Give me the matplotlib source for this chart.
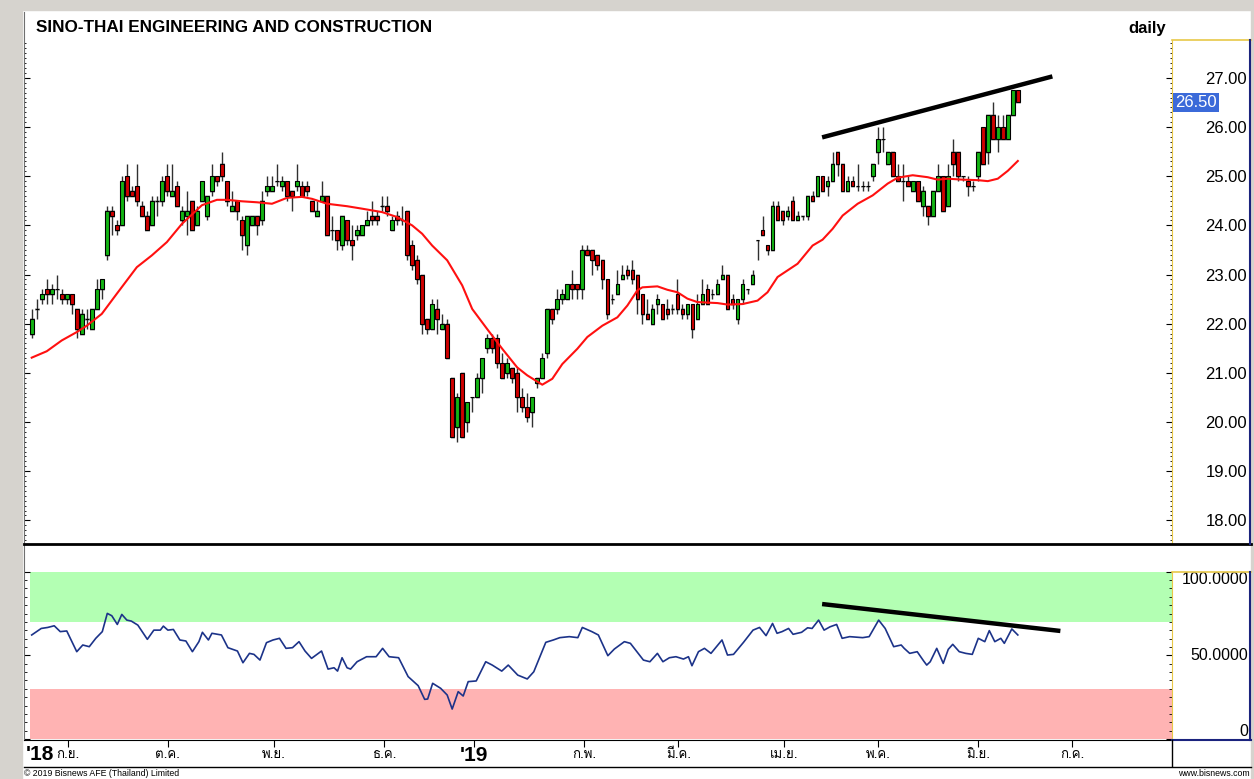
import numpy as np
import matplotlib
matplotlib.use('Agg')
import matplotlib.pyplot as plt
import matplotlib.transforms as mtransforms
from matplotlib import font_manager
from matplotlib.ft2font import FT2Font
from matplotlib.lines import Line2D
from matplotlib.patches import Rectangle
from matplotlib.ticker import MultipleLocator, FixedLocator

# ---------------- data ----------------
opens = [21.8, 22.3, 22.5, 22.7, 22.6, 22.7, 22.6, 22.5, 22.6, 22.3,
         21.8, 22.1, 21.9, 22.3, 22.7, 23.4, 24.3, 24.0, 24.0, 25.0,
         24.7, 24.8, 24.4, 24.2, 24.0, 24.5, 24.5, 25.0, 24.6, 24.8,
         24.1, 24.2, 24.5, 24.0, 24.5, 24.2, 24.7, 25.0, 25.25, 24.9,
         24.3, 24.5, 24.1, 23.6, 24.0, 24.2, 24.1, 24.7, 24.7, 24.9,
         24.8, 24.9, 24.7, 24.8, 24.8, 24.8, 24.5, 24.2, 24.5, 24.6,
         23.9, 23.9, 23.6, 24.1, 23.7, 23.8, 23.8, 24.0, 24.2, 24.2,
         24.4, 24.4, 23.9, 24.2, 24.1, 24.3, 23.6, 23.3, 23.0, 22.1,
         21.9, 22.3, 21.9, 22.0, 20.9, 19.9, 21.0, 20.0, 20.5, 20.5,
         20.9, 21.5, 21.7, 21.7, 21.2, 21.0, 21.1, 21.0, 20.5, 20.3,
         20.2, 20.8, 20.9, 21.4, 22.3, 22.3, 22.5, 22.5, 22.8, 22.8,
         22.7, 23.5, 23.5, 23.4, 23.3, 22.9, 22.5, 22.6, 22.9, 23.1,
         23.1, 23.0, 22.6, 22.2, 22.0, 22.4, 22.4, 22.3, 22.3, 22.6,
         22.3, 22.2, 22.4, 22.1, 22.4, 22.7, 22.6, 22.6, 22.9, 23.0,
         22.5, 22.1, 22.5, 22.7, 22.8, 23.7, 23.9, 23.6, 23.5, 24.4,
         24.3, 24.2, 24.5, 24.1, 24.2, 24.2, 24.6, 24.6, 25.0, 24.8,
         24.9, 25.5, 25.25, 24.7, 24.9, 24.8, 24.8, 24.8, 25.0, 25.5,
         25.75, 25.25, 25.5, 25.0, 24.9, 24.9, 24.7, 24.9, 24.4, 24.4,
         24.2, 24.7, 25.0, 24.4, 25.5, 25.5, 25.0, 24.9, 24.8, 25.0,
         26.0, 25.5, 26.25, 25.75, 26.0, 25.75, 26.25, 26.75]
highs = [22.3, 22.5, 22.7, 22.9, 22.8, 23.0, 22.7, 22.6, 22.6, 22.3,
         22.3, 22.3, 22.3, 22.9, 22.9, 24.4, 24.4, 24.1, 25.0, 25.25,
         24.8, 25.25, 24.5, 24.3, 24.6, 24.6, 25.0, 25.25, 25.25, 24.9,
         24.4, 24.7, 24.5, 24.4, 24.9, 24.6, 25.25, 25.0, 25.5, 24.9,
         24.7, 24.5, 24.2, 24.2, 24.2, 24.2, 24.7, 25.0, 25.0, 25.25,
         25.0, 24.9, 24.7, 25.25, 24.9, 24.9, 24.5, 24.5, 24.9, 24.6,
         24.2, 23.9, 24.2, 24.1, 24.0, 24.0, 24.0, 24.3, 24.5, 24.3,
         24.6, 24.6, 24.2, 24.3, 24.4, 24.3, 23.7, 23.4, 23.0, 22.1,
         22.5, 22.5, 22.2, 22.1, 20.9, 20.6, 21.0, 20.4, 20.5, 21.0,
         21.3, 21.8, 21.8, 21.8, 21.4, 21.3, 21.1, 21.1, 20.7, 20.6,
         20.5, 20.9, 21.4, 22.3, 22.3, 22.7, 22.7, 22.8, 23.1, 22.8,
         23.6, 23.6, 23.5, 23.4, 23.3, 22.9, 22.6, 23.1, 23.2, 23.2,
         23.3, 23.0, 22.6, 22.5, 22.4, 22.6, 22.4, 22.5, 22.4, 22.9,
         22.4, 22.4, 22.4, 22.6, 22.9, 22.8, 22.7, 22.9, 23.2, 23.0,
         22.6, 22.5, 22.9, 22.7, 23.1, 23.7, 24.2, 23.6, 24.5, 24.5,
         24.3, 24.4, 24.6, 24.3, 24.2, 24.6, 24.7, 25.0, 25.0, 25.0,
         25.5, 25.5, 25.25, 25.0, 25.0, 25.25, 24.9, 24.9, 25.25, 26.0,
         26.0, 25.5, 25.5, 25.25, 25.25, 25.0, 24.9, 24.9, 24.8, 24.4,
         24.7, 25.25, 25.0, 25.25, 25.75, 25.5, 25.0, 25.0, 24.9, 25.5,
         26.0, 26.25, 26.5, 26.25, 26.25, 26.25, 26.75, 26.75]
lows = [21.7, 22.1, 22.4, 22.4, 22.4, 22.5, 22.4, 22.4, 22.2, 21.7,
        21.8, 21.9, 21.9, 22.3, 22.5, 23.3, 23.8, 23.8, 24.0, 24.5,
        24.6, 24.4, 24.2, 23.9, 24.0, 24.2, 24.4, 24.6, 24.6, 24.4,
        24.0, 23.8, 23.9, 24.0, 24.5, 24.1, 24.6, 24.8, 24.9, 24.4,
        24.3, 24.1, 23.5, 23.4, 24.0, 23.8, 24.0, 24.6, 24.7, 24.8,
        24.7, 24.5, 24.3, 24.7, 24.6, 24.6, 24.3, 24.2, 24.5, 23.8,
        23.7, 23.5, 23.5, 23.6, 23.3, 23.7, 23.8, 24.0, 24.0, 24.0,
        24.3, 24.2, 23.9, 24.0, 24.0, 23.3, 23.1, 22.8, 21.8, 21.8,
        21.9, 21.8, 21.9, 21.3, 19.7, 19.6, 19.7, 19.8, 20.2, 20.5,
        20.6, 21.4, 21.4, 21.1, 20.9, 20.9, 20.8, 20.2, 20.2, 20.0,
        19.9, 20.7, 20.9, 21.3, 22.0, 22.2, 22.4, 22.5, 22.5, 22.5,
        22.5, 23.4, 23.0, 23.1, 22.7, 22.1, 22.4, 22.6, 22.9, 22.9,
        22.8, 22.2, 22.0, 22.1, 22.0, 22.2, 22.1, 22.1, 22.2, 22.2,
        22.1, 22.1, 21.7, 22.1, 22.4, 22.4, 22.5, 22.6, 22.9, 22.3,
        22.3, 22.0, 22.4, 22.6, 22.8, 23.3, 23.8, 23.4, 23.5, 24.1,
        24.0, 24.1, 24.1, 24.1, 24.1, 24.1, 24.5, 24.6, 24.7, 24.6,
        24.9, 25.0, 24.7, 24.7, 24.8, 24.7, 24.7, 24.7, 24.9, 25.25,
        25.5, 25.25, 25.0, 24.9, 24.5, 24.8, 24.7, 24.5, 24.2, 24.0,
        24.2, 24.7, 24.3, 24.4, 25.0, 24.9, 24.9, 24.6, 24.7, 24.9,
        25.25, 25.25, 25.75, 25.5, 25.75, 25.75, 26.25, 26.5]
closes = [22.1, 22.3, 22.6, 22.6, 22.7, 22.7, 22.5, 22.6, 22.4, 21.9,
          22.2, 22.1, 22.3, 22.7, 22.9, 24.3, 24.2, 23.9, 24.9, 24.6,
          24.6, 24.5, 24.2, 23.9, 24.5, 24.5, 24.9, 24.7, 24.7, 24.4,
          24.3, 24.3, 23.9, 24.3, 24.9, 24.6, 25.0, 24.9, 25.0, 24.5,
          24.4, 24.3, 23.8, 24.2, 24.2, 24.0, 24.5, 24.8, 24.8, 24.9,
          24.9, 24.6, 24.6, 24.9, 24.6, 24.7, 24.3, 24.3, 24.6, 23.8,
          23.9, 23.7, 24.2, 23.7, 23.6, 23.9, 24.0, 24.1, 24.1, 24.1,
          24.4, 24.3, 24.1, 24.1, 24.1, 23.4, 23.2, 22.9, 22.0, 21.9,
          22.4, 22.1, 22.0, 21.3, 19.7, 20.5, 19.7, 20.4, 20.5, 20.9,
          21.3, 21.7, 21.5, 21.2, 20.9, 21.2, 20.9, 20.5, 20.3, 20.1,
          20.5, 20.9, 21.3, 22.3, 22.1, 22.5, 22.6, 22.8, 22.7, 22.7,
          23.5, 23.4, 23.3, 23.2, 22.9, 22.2, 22.5, 22.8, 23.0, 23.0,
          22.9, 22.5, 22.2, 22.1, 22.3, 22.5, 22.1, 22.2, 22.3, 22.3,
          22.2, 22.4, 21.9, 22.4, 22.6, 22.4, 22.6, 22.8, 23.0, 22.3,
          22.4, 22.5, 22.8, 22.7, 23.0, 23.7, 23.8, 23.5, 24.4, 24.1,
          24.1, 24.3, 24.1, 24.2, 24.2, 24.6, 24.5, 25.0, 24.7, 24.9,
          25.25, 25.25, 24.7, 24.9, 24.8, 24.8, 24.8, 24.8, 25.25, 25.75,
          25.75, 25.5, 25.0, 24.9, 24.9, 24.8, 24.9, 24.5, 24.7, 24.2,
          24.7, 25.0, 24.3, 25.0, 25.25, 25.0, 25.0, 24.8, 24.8, 25.5,
          25.25, 26.25, 25.75, 26.0, 25.75, 26.25, 26.75, 26.5]

# red moving average, read at these bar numbers
ma_idx = [1, 4, 7, 10, 12, 15, 18, 20, 22, 25, 28, 31, 35, 38, 40, 43, 46, 49, 52, 55,
          57, 60, 64, 67, 71, 74, 77, 79, 81, 84, 87, 89, 92, 95, 98, 100, 103, 105, 107, 110,
          112, 115, 118, 120, 122, 123, 126, 128, 130, 132, 134, 138, 140, 143, 146, 148, 150, 154, 157, 159,
          161, 163, 166, 169, 172, 174, 177, 180, 182, 184, 187, 190, 192, 194, 196, 198]
ma_val = [21.31, 21.44, 21.66, 21.83, 21.96, 22.20, 22.61, 22.88, 23.15, 23.39,
          23.66, 24.03, 24.41, 24.52, 24.52, 24.49, 24.47, 24.44, 24.56, 24.58,
          24.54, 24.44, 24.39, 24.34, 24.27, 24.17, 24.00, 23.83, 23.59, 23.29,
          22.78, 22.30, 21.89, 21.49, 21.11, 20.95, 20.76, 20.88, 21.18, 21.49,
          21.73, 21.96, 22.13, 22.37, 22.68, 22.74, 22.76, 22.69, 22.64, 22.51,
          22.44, 22.42, 22.39, 22.40, 22.47, 22.64, 22.95, 23.22, 23.59, 23.71,
          23.93, 24.20, 24.44, 24.61, 24.85, 24.97, 25.02, 24.98, 24.93, 24.95,
          24.93, 24.92, 24.90, 24.95, 25.11, 25.31]

# RSI line, read at these bar positions
rsi_idx = [1, 2.9, 4.2, 5.5, 6.7, 8.0, 10.0, 11.2, 12.5, 13.8,
           15.1, 16.1, 17.0, 18.1, 19.0, 20.0, 20.9, 22.2, 24.1, 25.4,
           26.7, 27.3, 28.2, 29.3, 30.6, 31.8, 33.1, 34.4, 35.1, 36.3,
           37.0, 38.9, 40.2, 42.1, 43.2, 44.5, 45.4, 46.6, 47.9, 49.2,
           50.5, 51.8, 53.1, 54.4, 55.6, 56.9, 58.9, 60.2, 61.4, 62.1,
           63.0, 64.0, 64.7, 66.0, 67.9, 69.8, 71.1, 72.4, 74.3, 76.2,
           78.2, 79.5, 80.1, 81.1, 82.7, 84.0, 85.0, 86.2, 87.2, 88.2,
           89.8, 91.7, 93.0, 94.9, 96.2, 98.1, 100.0, 101.3, 103.7, 105.2,
           106.5, 108.4, 110.1, 111.0, 112.9, 114.2, 116.1, 117.4, 119.4, 120.6,
           123.2, 124.5, 126.0, 127.1, 128.4, 129.7, 131.2, 132.2, 132.9, 134.2,
           135.4, 136.7, 138.9, 140.0, 141.2, 143.2, 145.1, 146.4, 147.7, 149.0,
           149.9, 150.9, 152.2, 153.1, 154.8, 156.0, 156.9, 158.2, 159.3, 160.5,
           161.8, 162.9, 164.4, 167.0, 168.3, 170.2, 171.5, 173.2, 174.7, 175.3,
           176.4, 177.9, 179.2, 179.8, 180.5, 181.8, 183.1, 184.1, 185.0, 186.3,
           187.6, 188.9, 190.1, 191.4, 192.3, 193.4, 194.6, 195.3, 196.8, 198.0]
rsi_val = [62.2, 66.1, 66.7, 67.7, 64.2, 64.6, 52.2, 56.2, 55.2, 60.2,
           64.2, 75.1, 73.7, 68.5, 74.5, 71.1, 70.5, 68.1, 59.6, 65.1,
           65.1, 67.5, 65.1, 65.5, 59.2, 58.6, 52.2, 58.2, 63.8, 59.2,
           63.2, 62.2, 54.6, 52.6, 45.6, 51.2, 50.6, 47.2, 57.6, 59.2,
           60.2, 54.2, 54.6, 58.2, 52.6, 48.2, 52.6, 41.8, 42.6, 40.6,
           48.6, 42.6, 41.8, 46.2, 49.2, 49.2, 54.2, 49.2, 48.6, 37.3,
           31.9, 23.7, 23.9, 33.3, 30.3, 26.3, 17.9, 28.3, 25.7, 34.3,
           34.7, 46.2, 44.2, 40.6, 44.2, 38.2, 35.9, 40.2, 57.8, 59.2,
           60.6, 61.2, 60.6, 66.7, 64.2, 62.2, 49.8, 53.8, 58.2, 57.2,
           47.2, 46.2, 51.2, 46.2, 48.6, 49.2, 47.8, 49.2, 43.8, 52.2,
           54.2, 51.2, 59.2, 50.2, 50.6, 57.8, 65.1, 66.7, 61.8, 69.1,
           63.2, 64.2, 66.1, 62.6, 63.8, 66.5, 66.1, 71.1, 65.1, 67.1,
           68.5, 60.2, 61.2, 60.6, 61.2, 71.1, 66.1, 55.2, 56.2, 54.2,
           51.2, 52.2, 46.6, 44.2, 46.2, 54.2, 45.2, 53.6, 56.6, 52.2,
           51.2, 50.6, 60.2, 58.2, 64.8, 58.2, 60.2, 57.2, 65.8, 62.2]

# hand-drawn trend lines (bar, value)
price_trend_x = [158.9, 204.9]
price_trend_y = [25.79, 27.03]
rsi_trend_x = [158.9, 206.5]
rsi_trend_y = [80.7, 64.6]

month_pos = [8.2, 28.2, 49.4, 71.4, 89.4, 111.4, 130.2, 151.3, 170.1, 190.1, 208.9]
month_labels = ['ก.ย.', 'ต.ค.', 'พ.ย.', 'ธ.ค.', "'19", 'ก.พ.', 'มี.ค.', 'เม.ย.', 'พ.ค.', 'มิ.ย.', 'ก.ค.']
price_ticks = [18, 19, 20, 21, 22, 23, 24, 25, 26, 27]
rsi_ticks = [0, 50, 100]
rsi_tick_labels = ['0', '50.0000', '100.0000']

# ---------------- fonts ----------------
plt.rcParams['font.family'] = ['Liberation Sans', 'DejaVu Sans']
thai_font = None
for fe in font_manager.fontManager.ttflist:
    try:
        if ord('ก') in FT2Font(fe.fname).get_charmap():
            thai_font = fe.name
            break
    except Exception:
        continue
thai_family = [thai_font, 'Liberation Sans'] if thai_font else ['Liberation Sans', 'DejaVu Sans']
narrow = ['Liberation Sans Narrow', 'Liberation Sans']

# ---------------- layout (pixels of the 1254x779 picture) ----------------
W, H = 1254, 779
fig = plt.figure(figsize=(W / 100, H / 100), dpi=100, facecolor='white')


def fx(x):
    return x / W


def fy(y):
    return 1 - y / H


def fline(xs, ys, **kw):
    fig.add_artist(Line2D([fx(v) for v in xs], [fy(v) for v in ys],
                          transform=fig.transFigure, **kw))


# window frame
fig.add_artist(Rectangle((0, 0), fx(22), 1, transform=fig.transFigure,
                         color='#d6d3ce', zorder=0))
fig.add_artist(Rectangle((0, fy(10)), 1, 10 / H, transform=fig.transFigure,
                         color='#d6d3ce', zorder=0))
fig.add_artist(Rectangle((fx(1251), 0), 3 / W, 1, transform=fig.transFigure,
                         color='#d6d3ce', zorder=0))

X0, X1 = -0.54, 228.8
ax_p = fig.add_axes([fx(24), fy(544), fx(1172) - fx(24), (544 - 12) / H])
ax_r = fig.add_axes([fx(24), fy(740), fx(1172) - fx(24), (740 - 545) / H])

# ---------------- price panel ----------------
days = np.arange(1, len(closes) + 1)
o = np.array(opens)
c = np.array(closes)
hi = np.array(highs)
lo = np.array(lows)
body_lo = np.minimum(o, c)
body_h = np.abs(c - o)
colors = np.where(c >= o, '#14b414', '#d00000')

ax_p.bar(days + 0.12, body_h + 0.05, bottom=body_lo - 0.04, width=0.88,
         color='#cccccc', zorder=1)
ax_p.vlines(days, lo, hi, color='#303030', lw=1.0, zorder=2)
ax_p.bar(days, body_h, bottom=body_lo, width=0.74, color=colors,
         edgecolor='black', linewidth=0.8, zorder=3)
ax_p.plot(ma_idx, ma_val, color='#ff1010', lw=1.5, zorder=4)
ax_p.plot(price_trend_x, price_trend_y, color='black', lw=3.2,
          solid_capstyle='butt', zorder=5)

ax_p.set_xlim(X0, X1)
ax_p.set_ylim(17.52, 28.34)
ax_p.set_yticks(price_ticks)
ax_p.set_yticklabels([f'{v:.2f}' for v in price_ticks])
ax_p.yaxis.set_minor_locator(FixedLocator(np.arange(17.6, 27.75, 0.1)))
ax_p.yaxis.tick_right()
ax_p.tick_params(axis='y', which='both', direction='in', left=True, right=True,
                 labelleft=False, labelright=True, labelsize=12, pad=54,
                 colors='black')
ax_p.tick_params(axis='y', which='major', length=4, width=0.8)
ax_p.tick_params(axis='y', which='minor', length=1.5, width=0.6)
for lab in ax_p.get_yticklabels():
    lab.set_horizontalalignment('right')
ax_p.tick_params(axis='x', bottom=False, labelbottom=False)
ax_p.spines['top'].set_visible(False)
ax_p.spines['bottom'].set_visible(False)
ax_p.spines['left'].set_color('#707070')
ax_p.spines['right'].set_color('#e8c848')
ax_p.spines['right'].set_bounds(17.52, 27.77)

# last price tag
tr = mtransforms.blended_transform_factory(ax_p.transAxes, ax_p.transData)
ax_p.text(1.003, closes[-1], f'{closes[-1]:.2f}', transform=tr, ha='left',
          va='center', fontsize=12, color='white', zorder=6,
          bbox=dict(facecolor='#3b6ad9', edgecolor='none', pad=1.6))

# title row
fig.text(fx(36), fy(28), 'SINO-THAI ENGINEERING AND CONSTRUCTION',
         fontsize=12.3, fontweight='bold', va='center', ha='left')
fig.text(fx(1166), fy(28), 'daily', fontsize=12, fontweight='bold',
         va='center', ha='right')

# ---------------- RSI panel ----------------
ax_r.axhspan(70, 100, xmin=0.005, color='#b3ffb3', lw=0, zorder=0)
ax_r.axhspan(0, 30, xmin=0.005, color='#ffb3b3', lw=0, zorder=0)
ax_r.plot(rsi_idx, rsi_val, color='#1c3389', lw=1.2, zorder=3)
ax_r.plot(rsi_trend_x, rsi_trend_y, color='black', lw=3.2,
          solid_capstyle='butt', zorder=4)
ax_r.set_xlim(X0, X1)
ax_r.set_ylim(-0.6, 116)
ax_r.set_yticks(rsi_ticks)
ax_r.set_yticklabels(rsi_tick_labels)
ax_r.yaxis.set_minor_locator(FixedLocator(np.arange(5, 100, 5)))
ax_r.yaxis.tick_right()
ax_r.tick_params(axis='y', which='both', direction='in', left=True, right=True,
                 labelleft=False, labelright=True, labelsize=11.5, pad=55)
ax_r.tick_params(axis='y', which='major', length=4, width=0.8)
ax_r.tick_params(axis='y', which='minor', length=2, width=0.6)
for lab, va in zip(ax_r.get_yticklabels(), ['bottom', 'center', 'top']):
    lab.set_horizontalalignment('right')
    lab.set_verticalalignment(va)

ax_r.set_xticks(month_pos)
ax_r.set_xticklabels(month_labels)
ax_r.tick_params(axis='x', direction='out', length=5, width=0.8, pad=6)
for lab in ax_r.get_xticklabels():
    lab.set_verticalalignment('center')
    if lab.get_text().startswith("'"):
        lab.set_family(narrow)
        lab.set_fontsize(15)
        lab.set_fontweight('bold')
    else:
        lab.set_family(thai_family)
        lab.set_fontsize(9.5)
ax_r.text(X0 + 0.3, -0.072, "'18", transform=mtransforms.blended_transform_factory(
    ax_r.transData, ax_r.transAxes), ha='left', va='center', fontsize=15,
    fontweight='bold', family=narrow)
ax_r.spines['top'].set_visible(False)
ax_r.spines['right'].set_color('#e8c848')
ax_r.spines['right'].set_bounds(-0.6, 100)
ax_r.spines['left'].set_color('#707070')
ax_r.spines['bottom'].set_color('black')

# ---------------- frame lines ----------------
fline([24, 1251], [544, 544], color='black', lw=2.0)
fline([1172, 1251], [40, 40], color='#e8c848', lw=1.2)
fline([1250, 1250], [40, 544], color='#1a237e', lw=1.5)
fline([1172, 1251], [572, 572], color='#e8c848', lw=1.2)
fline([1250, 1250], [572, 740], color='#1a237e', lw=1.5)
fline([1172, 1251], [740, 740], color='#1a237e', lw=1.5)
fline([24, 1251], [766.5, 766.5], color='black', lw=1.0)
fline([1172, 1172], [740, 766], color='black', lw=1.0)

# footer
fig.text(fx(24), fy(773), '© 2019 Bisnews AFE (Thailand) Limited', fontsize=6.3,
         va='center', ha='left', family=narrow)
fig.text(fx(1250), fy(773), 'www.bisnews.com', fontsize=6.3, va='center', ha='right',
         family=narrow)

fig.savefig('out.png', dpi=100, facecolor='white')
